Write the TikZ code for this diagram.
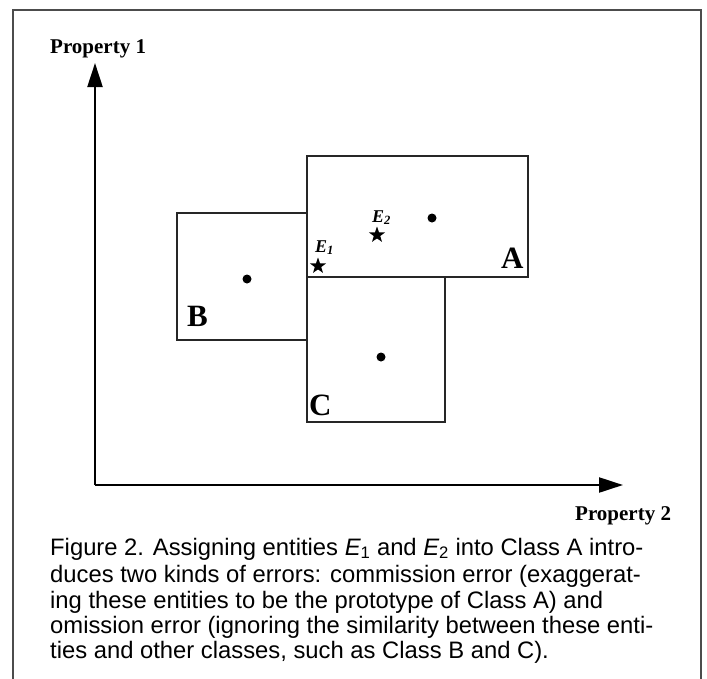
\documentclass[tikz,border=0pt]{standalone}
\usepackage{fontspec}
\setmainfont{Liberation Serif}
\newfontfamily\capfont{Liberation Sans}
\usetikzlibrary{arrows.meta,shapes.geometric}
\tikzset{
  frameline/.style={draw=black!70,line width=1.3pt},
  axis/.style={line width=2.2pt,-{Triangle[length=24pt,width=15pt]}},
  classbox/.style={draw=black!85,line width=1.4pt,inner sep=0pt},
  proto/.style={circle,fill=black,minimum size=9pt,inner sep=0pt},
  entity/.style={star,star points=5,star point ratio=2.5,fill=black,minimum size=17pt,inner sep=0pt},
  axlabel/.style={font=\fontsize{21}{24}\selectfont\bfseries,anchor=base west,inner sep=0pt},
  classlabel/.style={font=\fontsize{31}{34}\selectfont\bfseries,anchor=base west,inner sep=0pt},
  entlabel/.style={font=\fontsize{18}{20}\selectfont\bfseries\itshape,anchor=base west,inner sep=0pt},
  capline/.style={font=\capfont\fontsize{23.8}{26}\selectfont,anchor=base west,inner sep=0pt}
}
\begin{document}
\begin{tikzpicture}[x=1pt,y=-1pt]
\useasboundingbox[fill=white] (0,0) rectangle (707,678);
% frame (no bottom edge)
\draw[frameline] (13,680) -- (13,10) -- (701,10) -- (701,680);
% axes
\coordinate (O) at (95,485);
\coordinate (ytip) at (95,63);
\coordinate (xtip) at (623,485);
\draw[axis] (O) -- (ytip);
\draw[axis] (O) -- (xtip);
\node[axlabel] (p1) at (50,53) {Property 1};
\node[axlabel] (p2) at (575,520) {Property 2};
% class boxes
\node[classbox,minimum width=221pt,minimum height=121pt] (A) at (417.5,216.5) {};
\node[classbox,minimum width=130pt,minimum height=127pt] (B) at (242,276.5) {};
\node[classbox,minimum width=138pt,minimum height=145pt] (C) at (376,349.5) {};
% prototypes
\node[proto] (pa) at (432,218) {};
\node[proto] (pb) at (247,279) {};
\node[proto] (pc) at (381,357) {};
% class labels
\node[classlabel] (la) at (501,268) {A};
\node[classlabel] (lb) at (187,326) {B};
\node[classlabel] (lc) at (309,415) {C};
% entities
\node[entity] (e1) at (318,266) {};
\node[entity] (e2) at (377,235) {};
\node[entlabel] (l1) at (315,252) {E\textsubscript{\itshape 1}};
\node[entlabel] (l2) at (372,222) {E\textsubscript{\itshape 2}};
% caption
\node[capline] (c1) at (50,555) {Figure 2. Assigning entities {\itshape E}\textsubscript{1} and {\itshape E}\textsubscript{2} into Class A intro-};
\node[capline] (c2) at (50,582) {duces two kinds of errors: commission error (exaggerat-};
\node[capline] (c3) at (50,608) {ing these entities to be the prototype of Class A) and};
\node[capline] (c4) at (50,633) {omission error (ignoring the similarity between these enti-};
\node[capline] (c5) at (50,658) {ties and other classes, such as Class B and C).};
\end{tikzpicture}
\end{document}
